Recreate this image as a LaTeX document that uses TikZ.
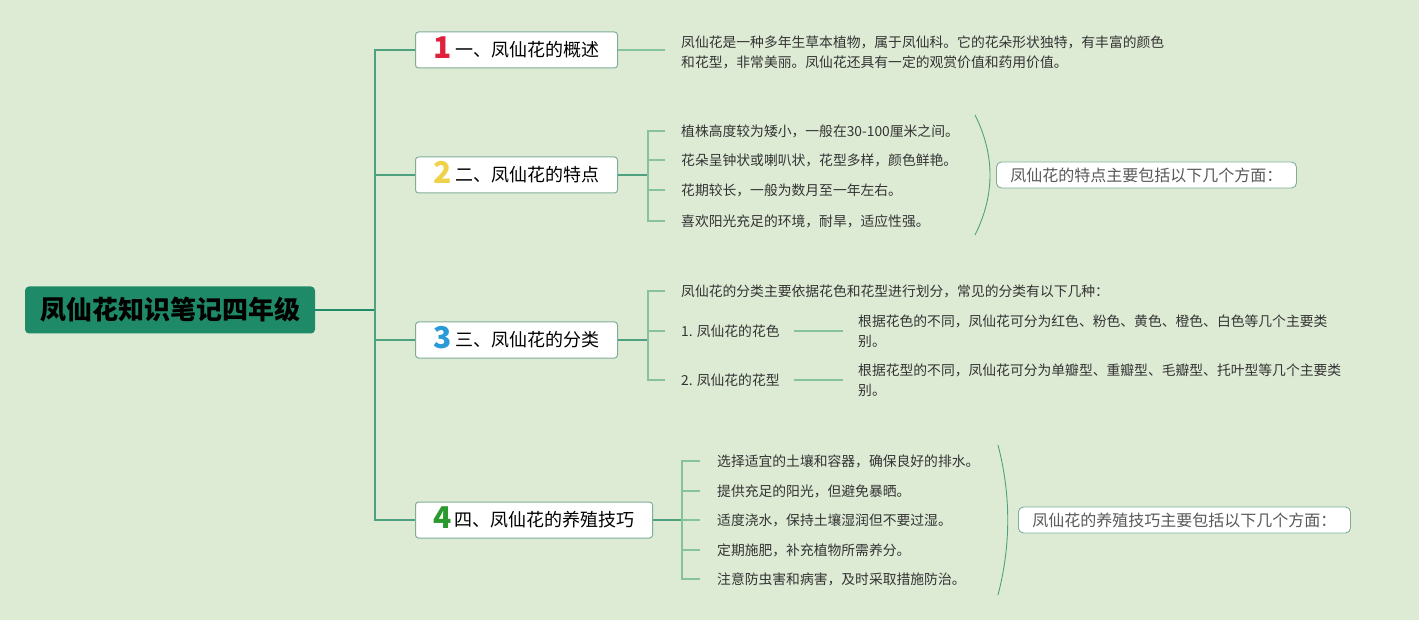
\documentclass[tikz,border=0pt]{standalone}
\usepackage{fontspec}
\setmainfont{Noto Sans CJK SC}
\usepackage{tikz}
\usetikzlibrary{positioning}

\definecolor{bgcol}{HTML}{DDEBD5}
\definecolor{rootcol}{HTML}{1F8A68}
\definecolor{trunkcol}{HTML}{4FA27F}
\definecolor{leafcol}{HTML}{86C39B}
\definecolor{boxline}{HTML}{7FAE98}
\definecolor{txtcol}{HTML}{333333}
\definecolor{numred}{HTML}{E0203C}
\definecolor{numyel}{HTML}{F0D24A}
\definecolor{numblue}{HTML}{2A9AD8}
\definecolor{numgreen}{HTML}{2A9A2E}

% big coloured number in front of a branch title
\newcommand{\bnum}[2]{\raisebox{-2.5pt}{\smash{\color{#1}\fontsize{30}{30}\selectfont\bfseries #2}}}

\tikzset{
	rootbox/.style={fill=rootcol, rounded corners=4pt, minimum width=290pt, minimum height=47pt, font=\fontsize{26}{30}\selectfont\bfseries, text=black},
	branchbox/.style={draw=boxline, fill=white, rounded corners=3pt, line width=1pt, anchor=west, minimum height=36pt, inner xsep=8pt, inner ysep=0pt, font=\fontsize{18}{20}\selectfont, text=black},
	sumbox/.style={draw=boxline, fill=white, rounded corners=5pt, line width=0.9pt, anchor=west, minimum height=26pt, inner xsep=14pt, inner ysep=0pt, font=\fontsize{16}{18}\selectfont, text=black!65},
	leaf/.style={anchor=west, inner xsep=0pt, inner ysep=2pt, align=left, font=\fontsize{13.8}{20}\selectfont, text=txtcol},
	trunk/.style={draw=trunkcol, line width=1.4pt},
	twig/.style={draw=leafcol, line width=1.4pt},
}

\begin{document}
\begin{tikzpicture}[x=1pt, y=-1pt]
	\fill[bgcol] (0,0) rectangle (1419,620);
	\useasboundingbox (0,0) rectangle (1419,620);

	% root and trunk
	\node[rootbox] (root) at (170,310) {凤仙花知识笔记四年级};
	\coordinate (trunk) at (375,310);
	\draw[draw=rootcol, line width=1.6pt] (root.east) -- (trunk);

	% four branches
	\node[branchbox, minimum width=202pt] (b1) at (415,50) {\bnum{numred}{1}\,一、凤仙花的概述};
	\node[branchbox, minimum width=202pt] (b2) at (415,175) {\bnum{numyel}{2}\,二、凤仙花的特点};
	\node[branchbox, minimum width=202pt] (b3) at (415,340) {\bnum{numblue}{3}\,三、凤仙花的分类};
	\node[branchbox, minimum width=237pt] (b4) at (415,520) {\bnum{numgreen}{4}\,四、凤仙花的养殖技巧};
	\foreach \b in {b1,b2,b3,b4}
		\draw[trunk] (trunk) |- (\b.west);

	% (1) overview
	\node[leaf] (l11) at (681,52) {凤仙花是一种多年生草本植物，属于凤仙科。它的花朵形状独特，有丰富的颜色\\和花型，非常美丽。凤仙花还具有一定的观赏价值和药用价值。};
	\draw[twig] (b1.east) -- ([xshift=-16pt]l11.west |- b1.east);

	% (2) features
	\node[leaf] (l21) at (681,131) {植株高度较为矮小，一般在30-100厘米之间。};
	\node[leaf] (l22) at (681,160) {花朵呈钟状或喇叭状，花型多样，颜色鲜艳。};
	\node[leaf] (l23) at (681,190) {花期较长，一般为数月至一年左右。};
	\node[leaf] (l24) at (681,221) {喜欢阳光充足的环境，耐旱，适应性强。};
	\coordinate (j2) at (648,175);
	\draw[trunk] (b2.east) -- (j2);
	\foreach \l in {l21,l22,l23,l24}
		\draw[twig] (j2) |- ([xshift=-16pt]\l.west);
	\coordinate (br2a) at (975,115);
	\coordinate (br2b) at (975,235);
	\draw[draw=trunkcol, line width=0.9pt] (br2a) .. controls (995,155) and (995,195) .. (br2b);
	\node[sumbox] (s2) at (996,175) {凤仙花的特点主要包括以下几个方面：};

	% (3) classification
	\node[leaf] (l31) at (681,291) {凤仙花的分类主要依据花色和花型进行划分，常见的分类有以下几种：};
	\node[leaf] (l32) at (681,331) {1. 凤仙花的花色};
	\node[leaf] (l33) at (681,380) {2. 凤仙花的花型};
	\coordinate (j3) at (648,340);
	\draw[trunk] (b3.east) -- (j3);
	\foreach \l in {l31,l32,l33}
		\draw[twig] (j3) |- ([xshift=-16pt]\l.west);
	\node[leaf] (l32a) at (858,331) {根据花色的不同，凤仙花可分为红色、粉色、黄色、橙色、白色等几个主要类\\别。};
	\node[leaf] (l33a) at (858,380) {根据花型的不同，凤仙花可分为单瓣型、重瓣型、毛瓣型、托叶型等几个主要类\\别。};
	\draw[twig] ([xshift=14pt]l32.east) -- ([xshift=-15pt]l32a.west |- l32.east);
	\draw[twig] ([xshift=14pt]l33.east) -- ([xshift=-15pt]l33a.west |- l33.east);

	% (4) cultivation
	\node[leaf] (l41) at (717,461) {选择适宜的土壤和容器，确保良好的排水。};
	\node[leaf] (l42) at (717,491) {提供充足的阳光，但避免暴晒。};
	\node[leaf] (l43) at (717,520) {适度浇水，保持土壤湿润但不要过湿。};
	\node[leaf] (l44) at (717,550) {定期施肥，补充植物所需养分。};
	\node[leaf] (l45) at (717,579) {注意防虫害和病害，及时采取措施防治。};
	\coordinate (j4) at (682,520);
	\draw[trunk] (b4.east) -- (j4);
	\foreach \l in {l41,l42,l43,l44,l45}
		\draw[twig] (j4) |- ([xshift=-17pt]\l.west);
	\coordinate (br4a) at (998,445);
	\coordinate (br4b) at (998,595);
	\draw[draw=trunkcol, line width=0.9pt] (br4a) .. controls (1011,495) and (1011,545) .. (br4b);
	\node[sumbox] (s4) at (1018,520) {凤仙花的养殖技巧主要包括以下几个方面：};
\end{tikzpicture}
\end{document}
